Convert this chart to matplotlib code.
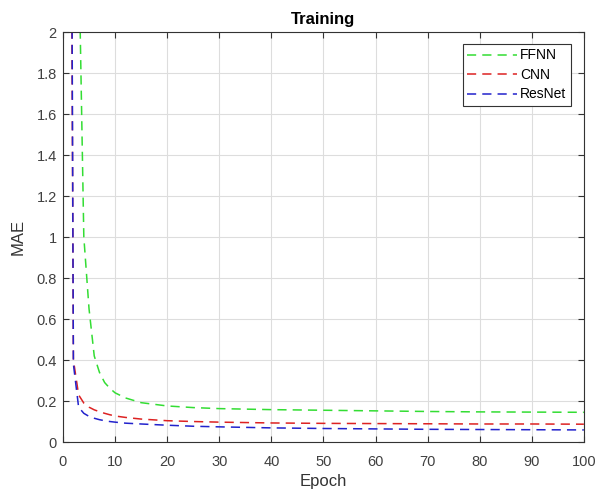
import matplotlib
matplotlib.use("Agg")
from matplotlib import pyplot as plt

# values
epochs = [1, 2, 3, 4, 5, 6, 7, 8, 9, 10, 12, 15, 20, 25, 30, 40, 50, 60, 70, 80, 90, 100]
ffnn = [8.0, 5.0, 2.45, 1.0, 0.65, 0.42, 0.34, 0.29, 0.262, 0.24, 0.215, 0.192, 0.176, 0.168,
        0.163, 0.158, 0.155, 0.152, 0.149, 0.147, 0.146, 0.145]
cnn = [6.0, 0.4, 0.23, 0.19, 0.17, 0.157, 0.148, 0.14, 0.133, 0.127, 0.12, 0.112, 0.104, 0.1,
       0.097, 0.093, 0.091, 0.09, 0.089, 0.088, 0.088, 0.087]
resnet = [7.0, 0.38, 0.17, 0.14, 0.125, 0.116, 0.109, 0.104, 0.1, 0.097, 0.092, 0.088, 0.082, 0.077,
          0.074, 0.069, 0.066, 0.064, 0.062, 0.061, 0.06, 0.059]
names = ["FFNN", "CNN", "ResNet"]
colors = ["#33dd33", "#dd2222", "#2222cc"]
xticks = list(range(0, 101, 10))
yticks = [0, 0.2, 0.4, 0.6, 0.8, 1, 1.2, 1.4, 1.6, 1.8, 2]
ylabels = ["0", "0.2", "0.4", "0.6", "0.8", "1", "1.2", "1.4", "1.6", "1.8", "2"]

plt.rcParams['font.family'] = ['Liberation Sans', 'DejaVu Sans']

def main():
	f = plt.figure(figsize=(5.97, 4.93), dpi=100)
	ax = f.add_axes([0.1055, 0.1034, 0.8725, 0.8316])
	for ys, name, c in zip([ffnn, cnn, resnet], names, colors):
		ax.plot(epochs, ys, linestyle=(0, (6, 4)), color=c, linewidth=1.1, label=name)

	ax.set_xlim(0, 100)
	ax.set_ylim(0, 2)
	ax.set_xticks(xticks)
	ax.set_yticks(yticks)
	ax.set_yticklabels(ylabels)
	ax.grid(True, color="#dddddd", linewidth=0.8)
	ax.set_axisbelow(True)
	ax.tick_params(direction="in", top=True, right=True, labelsize=10.5, colors="#333333",
		labelcolor="#404040", length=4)
	ax.tick_params(axis="x", pad=9)
	ax.tick_params(axis="y", pad=4.5)
	for s in ax.spines.values():
		s.set_color("#333333")
		s.set_linewidth(0.8)

	ax.set_xlabel("Epoch", fontsize=12, color="#333333", labelpad=4)
	ax.set_ylabel("MAE", fontsize=12, color="#333333", labelpad=8)
	ax.set_title("Training", fontsize=12, fontweight="bold", pad=6)

	leg = ax.legend(loc="upper right", bbox_to_anchor=(0.976, 0.972), fontsize=10, fancybox=False,
		framealpha=1, edgecolor="#333333", handlelength=3.6, handletextpad=0.2,
		borderpad=0.35, labelspacing=0.4, borderaxespad=0)
	leg.get_frame().set_linewidth(0.8)

	plt.savefig("out.png", dpi=100)

if __name__ == '__main__':
	main()
